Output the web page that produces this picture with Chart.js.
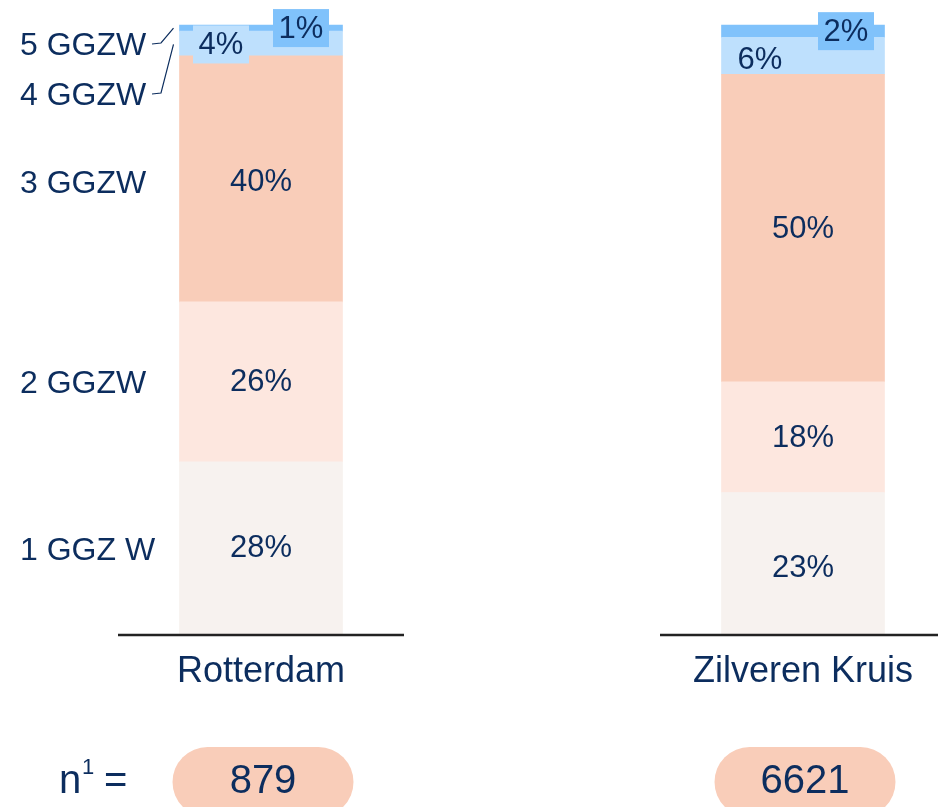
<!DOCTYPE html>
<html>
<head>
<meta charset="utf-8">
<script src="https://cdn.jsdelivr.net/npm/chart.js@4/dist/chart.umd.min.js"></script>
<style>
  html, body { margin: 0; padding: 0; background: #ffffff; }
  #wrap { width: 938px; height: 807px; }
</style>
</head>
<body>
<div id="wrap"><canvas id="chart" width="938" height="807"></canvas></div>
<script>
// Categorieën en waarden (percentages)
const categories = ['Rotterdam', 'Zilveren Kruis'];
const segmentNames = ['1 GGZ W', '2 GGZW', '3 GGZW', '4 GGZW', '5 GGZW'];
const ggzw1 = [28, 23];
const ggzw2 = [26, 18];
const ggzw3 = [40, 50];
const ggzw4 = [4, 6];
const ggzw5 = [1, 2];
const nValues = ['879', '6621'];

// Stijl
const textColor = '#0c2d5e';
const fontFamily = '"Liberation Sans", Arial, sans-serif';
const segmentColors = ['#f7f2ef', '#fde7df', '#f9cdb9', '#bee0fd', '#80c2fb'];
const pillColor = '#f9cdb9';

// Positie van percentage-labels (verschuiving t.o.v. midden segment) en eventueel kader
const labelStyle = {
    '3-0': { dx: -40, dy: 1, box: segmentColors[3] },
    '4-0': { dx: 40, box: segmentColors[4] },
    '3-1': { dx: -43, dy: 4 },
    '4-1': { dx: 43, box: segmentColors[4] },
    '2-0': { dy: 3 },
    '0-1': { dy: 4 }
};

const seriesValues = [ggzw1, ggzw2, ggzw3, ggzw4, ggzw5];

const annotatePlugin = {
    id: 'annotate',
    afterDatasetsDraw(chart) {
        const ctx = chart.ctx;
        ctx.save();
        ctx.textBaseline = 'middle';

        // Percentages in de balken
        seriesValues.forEach((values, di) => {
            const meta = chart.getDatasetMeta(di);
            meta.data.forEach((bar, i) => {
                const st = labelStyle[di + '-' + i] || {};
                const x = bar.x + (st.dx || 0);
                const y = (bar.y + bar.base) / 2 + (st.dy || 0);
                const text = values[i] + '%';
                ctx.font = '31px ' + fontFamily;
                if (st.box) {
                    ctx.fillStyle = st.box;
                    ctx.fillRect(x - 28, y - 19, 56, 38);
                }
                ctx.fillStyle = textColor;
                ctx.textAlign = 'center';
                ctx.fillText(text, x, y + 1);
            });
        });

        // Segmentnamen links, uitgelijnd op de eerste balk
        const first = (di) => chart.getDatasetMeta(di).data[0];
        ctx.font = '32px ' + fontFamily;
        ctx.textAlign = 'left';
        ctx.fillStyle = textColor;
        const nameDy = { 0: 3, 1: 2, 2: 5 };
        [0, 1, 2].forEach(di => {
            const b = first(di);
            ctx.fillText(segmentNames[di], 20, (b.y + b.base) / 2 + nameDy[di]);
        });
        const labelY = { 3: 96, 4: 46 };
        [3, 4].forEach(di => {
            const b = first(di);
            const ly = labelY[di];
            ctx.fillStyle = textColor;
            ctx.fillText(segmentNames[di], 20, ly);
            const left = b.x - b.width / 2;
            ctx.strokeStyle = textColor;
            ctx.lineWidth = 1.2;
            ctx.beginPath();
            ctx.moveTo(152, ly - 2);
            ctx.lineTo(161, ly - 3);
            ctx.lineTo(left - 6, (b.y + b.base) / 2 + (di === 3 ? 1 : 0));
            ctx.stroke();
        });

        // Basislijn, categorieën, n-waarden
        const yBase = chart.scales.y.getPixelForValue(0);
        const meta0 = chart.getDatasetMeta(0);
        meta0.data.forEach((b, i) => {
            ctx.strokeStyle = '#222222';
            ctx.lineWidth = 2.5;
            ctx.beginPath();
            ctx.moveTo(b.x - 143, yBase + 1);
            ctx.lineTo(b.x + 143, yBase + 1);
            ctx.stroke();

            ctx.fillStyle = textColor;
            ctx.textAlign = 'center';
            ctx.font = '36px ' + fontFamily;
            ctx.fillText(categories[i], b.x, 672);

            // pil
            const px = b.x + 2 - 90.5, py = 747, pw = 181, ph = 70, r = 35;
            ctx.fillStyle = pillColor;
            ctx.beginPath();
            ctx.roundRect(px, py, pw, ph, r);
            ctx.fill();
            ctx.fillStyle = textColor;
            ctx.font = '40px ' + fontFamily;
            ctx.fillText(nValues[i], b.x + 2, 782);
        });

        // n¹ =
        ctx.textAlign = 'left';
        ctx.fillStyle = textColor;
        ctx.font = '40px ' + fontFamily;
        ctx.fillText('n', 59, 782);
        ctx.font = '22px ' + fontFamily;
        ctx.fillText('1', 82, 768);
        ctx.font = '40px ' + fontFamily;
        ctx.fillText('=', 104, 782);

        ctx.restore();
    }
};

new Chart(document.getElementById('chart'), {
    type: 'bar',
    data: {
        labels: categories,
        datasets: seriesValues.map((values, di) => ({
            label: segmentNames[di],
            data: values,
            backgroundColor: segmentColors[di],
            borderWidth: 0,
            barThickness: 163,
            clip: false
        }))
    },
    options: {
        responsive: false,
        animation: false,
        events: [],
        layout: { padding: { top: 25, bottom: 173, left: 261, right: 135 } },
        plugins: { legend: { display: false }, tooltip: { enabled: false } },
        scales: {
            x: { stacked: true, offset: false, display: false },
            y: { stacked: true, min: 0, max: 99, display: false }
        }
    },
    plugins: [annotatePlugin]
});
</script>
</body>
</html>
